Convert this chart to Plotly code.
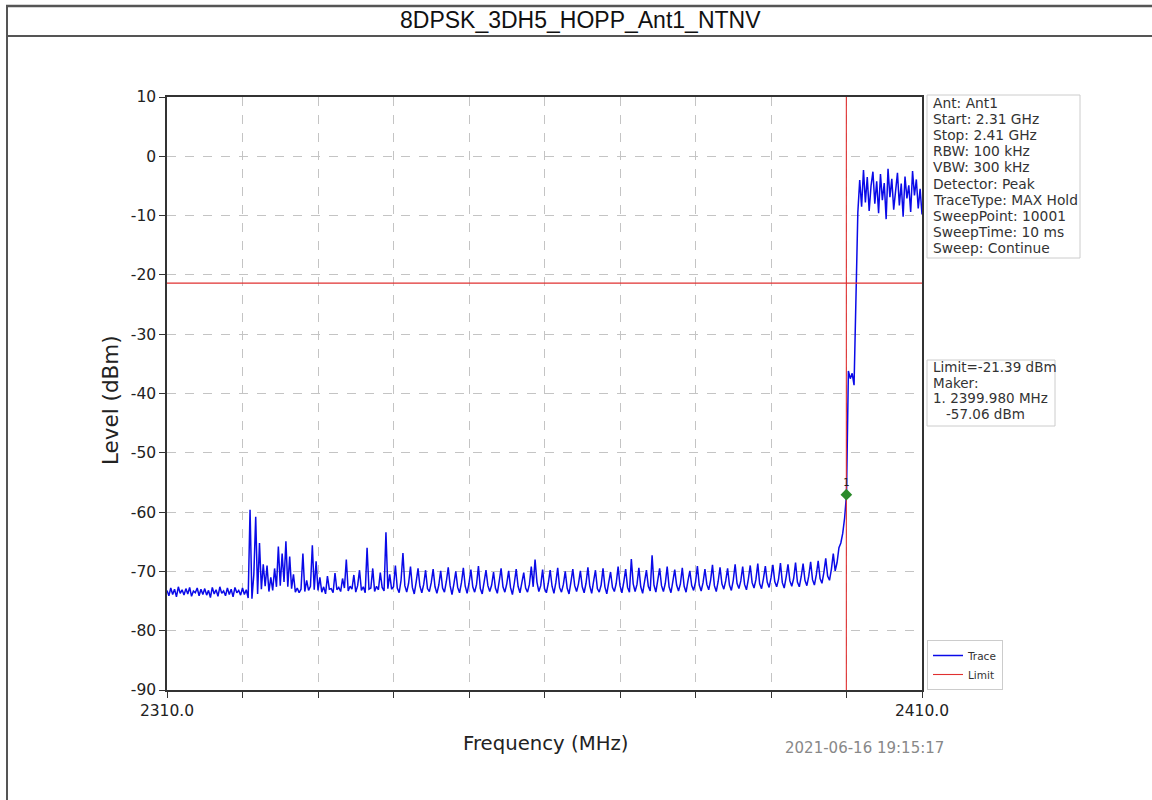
import plotly.graph_objects as go

# ---------------- data ----------------
title_text = "8DPSK_3DH5_HOPP_Ant1_NTNV"
f_start = 2310.0      # MHz (Start: 2.31 GHz)
f_step = 0.25         # MHz, resampled sweep grid
levels = [
    # 2310.0 - 2314.75
    -73.2, -74.1, -72.8, -73.9, -73.0, -74.3, -72.6, -73.7, -73.1, -74.0, -72.9, -73.8, -72.7, -74.2, -73.3, -73.6, -72.8, -74.1, -73.0, -73.9,
    # 2315.0 - 2319.75
    -72.9, -74.0, -73.2, -74.4, -72.7, -73.8, -73.1, -74.2, -72.6, -73.7, -73.3, -74.1, -72.8, -73.9, -73.0, -74.3, -72.7, -73.6, -73.2, -74.0,
    # 2320.0 - 2324.75
    -72.8, -73.9, -73.1, -74.5, -59.6, -74.6, -70.5, -60.8, -73.8, -65.2, -73.0, -68.8, -72.5, -69.0, -73.4, -71.0, -73.2, -69.5, -72.6, -65.8,
    # 2325.0 - 2329.75
    -72.4, -67.0, -71.8, -64.9, -72.6, -67.5, -72.9, -70.5, -73.5, -72.8, -73.6, -73.0, -67.0, -73.4, -71.5, -73.2, -72.5, -65.6, -73.1, -68.3,
    # 2330.0 - 2334.75
    -73.2, -71.0, -73.5, -72.6, -73.8, -70.8, -73.0, -72.9, -73.6, -70.3, -73.1, -72.7, -73.4, -71.2, -72.8, -68.0, -73.3, -72.5, -73.0, -70.6,
    # 2335.0 - 2339.75
    -73.5, -72.4, -69.8, -73.2, -72.6, -73.6, -66.0, -73.0, -72.8, -69.5, -73.4, -72.5, -73.1, -70.2, -72.7, -73.3, -63.4, -72.9, -70.5, -73.0,
    # 2340.0 - 2344.75
    -72.6, -69.0, -72.8, -73.6, -71.5, -66.9, -72.4, -73.5, -72.0, -69.2, -72.7, -73.8, -71.8, -69.5, -72.5, -73.6, -72.2, -69.8, -72.9, -73.4,
    # 2345.0 - 2349.75
    -71.9, -69.6, -72.6, -73.7, -72.3, -69.9, -72.8, -73.5, -71.7, -69.3, -72.4, -73.9, -72.1, -70.0, -72.7, -73.6, -71.9, -69.4, -72.5, -73.7,
    # 2350.0 - 2354.75
    -72.0, -69.7, -72.6, -73.5, -72.2, -69.1, -72.9, -73.8, -71.8, -69.8, -72.4, -73.4, -72.3, -70.1, -72.8, -73.7, -71.7, -69.5, -72.6, -73.5,
    # 2355.0 - 2359.75
    -72.1, -69.9, -72.7, -73.9, -72.0, -69.6, -72.5, -73.6, -71.9, -70.2, -72.8, -73.5, -72.2, -69.2, -72.6, -68.0, -71.8, -73.4, -72.4, -69.7,
    # 2360.0 - 2364.75
    -72.9, -73.6, -72.0, -69.8, -72.5, -73.7, -71.9, -69.4, -72.7, -73.5, -72.2, -70.0, -72.8, -73.8, -71.8, -69.6, -72.4, -73.4, -72.1, -69.9,
    # 2365.0 - 2369.75
    -72.6, -73.6, -72.0, -69.3, -72.5, -73.7, -71.7, -69.8, -72.9, -73.5, -72.3, -69.5, -72.6, -73.8, -71.9, -70.1, -72.7, -73.4, -72.0, -69.2,
    # 2370.0 - 2374.75
    -72.4, -73.6, -71.8, -69.6, -72.7, -73.5, -67.9, -72.1, -73.4, -72.2, -69.4, -72.6, -73.7, -71.9, -69.8, -72.5, -73.3, -67.3, -72.3, -73.5,
    # 2375.0 - 2379.75
    -71.8, -69.5, -72.4, -73.4, -72.0, -69.2, -72.6, -73.6, -71.7, -69.7, -72.3, -73.3, -72.1, -69.4, -72.5, -73.5, -71.6, -69.9, -72.4, -73.2,
    # 2380.0 - 2384.75
    -71.8, -69.1, -72.3, -73.3, -71.9, -69.6, -72.2, -73.1, -71.5, -68.9, -72.4, -73.4, -71.7, -69.3, -72.1, -73.0, -71.6, -69.5, -72.3, -73.2,
    # 2385.0 - 2389.75
    -71.5, -68.8, -72.0, -72.9, -71.6, -69.2, -72.2, -73.1, -71.3, -69.0, -71.9, -72.8, -71.4, -68.7, -72.1, -72.9, -71.2, -69.1, -71.8, -72.7,
    # 2390.0 - 2394.75
    -71.1, -68.9, -71.7, -72.6, -71.3, -68.6, -71.9, -72.8, -71.0, -68.8, -71.6, -72.5, -71.2, -68.5, -71.8, -72.6, -70.9, -68.7, -71.5, -72.4,
    # 2395.0 - 2399.75
    -70.8, -68.4, -71.4, -72.3, -70.6, -68.2, -71.2, -72.0, -70.2, -67.8, -70.8, -71.5, -69.6, -67.0, -69.9, -68.5, -66.0, -65.2, -63.6, -61.0,
    # 2400.0 - 2404.75
    -57.06, -36.2, -37.5, -36.6, -38.6, -22.0, -9.5, -4.0, -8.5, -2.3, -7.8, -3.5, -9.2, -5.0, -2.6, -8.0, -4.2, -9.6, -3.0, -7.4,
    # 2405.0 - 2409.75
    -4.5, -10.6, -2.1, -6.9, -3.8, -9.0, -5.2, -2.8, -8.3, -4.6, -10.2, -3.4, -7.1, -4.9, -9.4, -2.5, -6.6, -3.9, -8.8, -5.5,
    # 2410.0
    -9.8,
]
freqs = [round(f_start + f_step * i, 3) for i in range(len(levels))]

limit_level = -21.39
marker_freq = 2399.98
marker_level = -57.06

x_tickvals = [2310, 2320, 2330, 2340, 2350, 2360, 2370, 2380, 2390, 2400, 2410]
x_ticktext = ["2310.0", "", "", "", "", "", "", "", "", "", "2410.0"]
y_tickvals = [10, 0, -10, -20, -30, -40, -50, -60, -70, -80, -90]
y_ticktext = ["10", "0", "-10", "-20", "-30", "-40", "-50", "-60", "-70", "-80", "-90"]

info_lines = ["Ant: Ant1", "Start: 2.31 GHz", "Stop: 2.41 GHz", "RBW: 100 kHz", "VBW: 300 kHz",
              "Detector: Peak", "TraceType: MAX Hold", "SweepPoint: 10001", "SweepTime: 10 ms",
              "Sweep: Continue"]
marker_lines = ["Limit=-21.39 dBm", "Maker:", "1. 2399.980 MHz", "-57.06 dBm"]
timestamp = "2021-06-16 19:15:17"

# ---------------- layout geometry (pixels) ----------------
W, H = 1152, 800
L, R, T, B = 167, 922, 97, 690


def px_x(p):
    return (p - L) / (R - L)


def px_y(p):
    return (B - p) / (B - T)


FONT = "DejaVu Sans"

fig = go.Figure()
fig.add_trace(go.Scatter(x=freqs, y=levels, mode="lines", name="Trace",
                         line=dict(color="#0a0ae8", width=1.5)))
fig.add_trace(go.Scatter(x=[freqs[0], freqs[-1]], y=[limit_level, limit_level], mode="lines",
                         name="Limit", line=dict(color="#e03030", width=1.1)))
fig.add_trace(go.Scatter(x=[marker_freq, marker_freq], y=[y_tickvals[-1], y_tickvals[0]], mode="lines",
                         showlegend=False, line=dict(color="#e03030", width=1.1)))
fig.add_trace(go.Scatter(x=[marker_freq], y=[marker_level], mode="markers+text", showlegend=False,
                         marker=dict(symbol="diamond", size=9, color="#2a8a2a"),
                         text=["1"], textposition="top center",
                         textfont=dict(family=FONT, size=10, color="#222")))

axis_common = dict(showline=True, mirror=True, linecolor="#333", linewidth=1.5,
                   showgrid=True, gridcolor="#c4c4c4", griddash="dash", gridwidth=0.8,
                   zeroline=False, ticks="outside", ticklen=6, tickcolor="#333", tickwidth=1.2,
                   tickfont=dict(family=FONT, size=15.5, color="#222"))
fig.update_xaxes(range=[x_tickvals[0], x_tickvals[-1]], tickmode="array", tickvals=x_tickvals,
                 ticktext=x_ticktext, **axis_common)
fig.update_yaxes(range=[y_tickvals[-1], y_tickvals[0]], tickmode="array", tickvals=y_tickvals,
                 ticktext=y_ticktext, **axis_common)

shapes = []
# table frame: title row and left border
shapes.append(dict(type="line", xref="paper", yref="paper", x0=px_x(6), x1=px_x(W + 10),
                   y0=px_y(6), y1=px_y(6), line=dict(color="#555", width=2.5)))
shapes.append(dict(type="line", xref="paper", yref="paper", x0=px_x(6), x1=px_x(W + 10),
                   y0=px_y(36), y1=px_y(36), line=dict(color="#555", width=2)))
shapes.append(dict(type="line", xref="paper", yref="paper", x0=px_x(7), x1=px_x(7),
                   y0=px_y(5), y1=px_y(H + 5), line=dict(color="#555", width=2)))
# info boxes
shapes.append(dict(type="rect", xref="paper", yref="paper", x0=px_x(927), x1=px_x(1080),
                   y0=px_y(258), y1=px_y(95), line=dict(color="#cccccc", width=1), fillcolor="white"))
shapes.append(dict(type="rect", xref="paper", yref="paper", x0=px_x(927), x1=px_x(1055),
                   y0=px_y(426), y1=px_y(360), line=dict(color="#cccccc", width=1), fillcolor="white"))

annotations = []
annotations.append(dict(text=title_text, xref="paper", yref="paper", x=px_x(580), y=px_y(20),
                        xanchor="center", yanchor="middle", showarrow=False,
                        font=dict(family="Liberation Sans", size=23, color="#111")))
for i, s in enumerate(info_lines):
    annotations.append(dict(text=s, xref="paper", yref="paper", x=px_x(931), y=px_y(103 + 16.1 * i),
                            xanchor="left", yanchor="middle", showarrow=False,
                            font=dict(family=FONT, size=13.8, color="#333")))
for i, s in enumerate(marker_lines):
    xoff = 944 if i == 3 else 931
    annotations.append(dict(text=s, xref="paper", yref="paper", x=px_x(xoff), y=px_y(367 + 15.6 * i),
                            xanchor="left", yanchor="middle", showarrow=False,
                            font=dict(family=FONT, size=13.5, color="#333")))
annotations.append(dict(text="Level (dBm)", xref="paper", yref="paper", x=px_x(111), y=px_y(400),
                        xanchor="center", yanchor="middle", textangle=-90, showarrow=False,
                        font=dict(family=FONT, size=21.5, color="#222")))
annotations.append(dict(text="Frequency (MHz)", xref="paper", yref="paper", x=px_x(545), y=px_y(743),
                        xanchor="center", yanchor="middle", showarrow=False,
                        font=dict(family=FONT, size=19.7, color="#222")))
annotations.append(dict(text=timestamp, xref="paper", yref="paper", x=px_x(864), y=px_y(748),
                        xanchor="center", yanchor="middle", showarrow=False,
                        font=dict(family=FONT, size=15, color="#888")))

fig.update_layout(
    width=W, height=H,
    margin=dict(l=L, r=W - R, t=T, b=H - B, pad=0),
    paper_bgcolor="white", plot_bgcolor="white",
    shapes=shapes, annotations=annotations,
    showlegend=True,
    legend=dict(x=px_x(927), y=px_y(690), xanchor="left", yanchor="bottom",
                bordercolor="#cccccc", borderwidth=1, bgcolor="white",
                font=dict(family=FONT, size=10.5, color="#333"), tracegroupgap=0, itemwidth=30),
)

fig.write_html("out.html", config={"displayModeBar": False},
               post_script="document.body.style.margin='0';document.body.style.padding='0';")
